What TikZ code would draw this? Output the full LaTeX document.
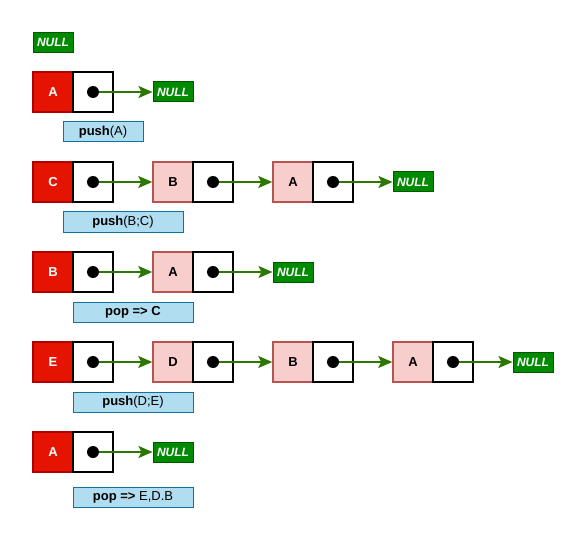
\documentclass[tikz,border=0pt]{standalone}
\usepackage{fontspec}
\setmainfont{Liberation Sans}
\usetikzlibrary{arrows.meta}
\definecolor{headfill}{HTML}{E51400}
\definecolor{headline}{HTML}{B20000}
\definecolor{nodefill}{HTML}{F8CECC}
\definecolor{nodeline}{HTML}{B85450}
\definecolor{nullfill}{HTML}{008A00}
\definecolor{nullline}{HTML}{005700}
\definecolor{arrowcol}{HTML}{2D7600}
\definecolor{labfill}{HTML}{B1DDF0}
\definecolor{labline}{HTML}{10739E}
\tikzset{
  headbox/.style={draw=headline,fill=headfill,line width=1.5pt,minimum width=40pt,minimum height=40pt,inner sep=0pt,text=white,font=\fontsize{13}{15}\selectfont\bfseries},
  valbox/.style={draw=nodeline,fill=nodefill,line width=1.5pt,minimum width=40pt,minimum height=40pt,inner sep=0pt,font=\fontsize{13}{15}\selectfont\bfseries},
  ptrbox/.style={draw=black,fill=white,line width=1.5pt,minimum width=40pt,minimum height=40pt,inner sep=0pt},
  nullbox/.style={draw=nullline,fill=nullfill,line width=1pt,minimum width=40pt,minimum height=20pt,inner sep=0pt,text=white,font=\fontsize{12}{14}\selectfont\bfseries\itshape},
  labbox/.style={draw=labline,fill=labfill,line width=1pt,minimum height=20pt,inner sep=0pt,font=\fontsize{13}{15}\selectfont},
  ptrdot/.style={circle,fill=black,minimum size=12pt,inner sep=0pt},
  link/.style={draw=arrowcol,line width=2pt,-{Stealth[length=14pt,width=12pt,inset=3pt]}},
}
\begin{document}
\begin{tikzpicture}[x=1pt,y=-1pt]
\useasboundingbox (0,0) rectangle (586,540);
% top NULL
\node[nullbox] (n0) at (53,42.5) {NULL};
% row 1
\node[headbox] (r1a) at (53,92) {A};
\node[ptrbox] (r1ap) at (93,92) {};
\node[nullbox] (r1n) at (173,92) {NULL};
\draw[link] (r1ap.center) -- (r1n.west);
\node[ptrdot] (r1ad) at (r1ap.center) {};
\node[labbox,minimum width=80pt] (l1) at (103,132) {\textbf{push}(A)};
% row 2
\node[headbox] (r2c) at (53,182) {C};
\node[ptrbox] (r2cp) at (93,182) {};
\node[valbox] (r2b) at (173,182) {B};
\node[ptrbox] (r2bp) at (213,182) {};
\node[valbox] (r2a) at (293,182) {A};
\node[ptrbox] (r2ap) at (333,182) {};
\node[nullbox] (r2n) at (413,182) {NULL};
\draw[link] (r2cp.center) -- (r2b.west);
\draw[link] (r2bp.center) -- (r2a.west);
\draw[link] (r2ap.center) -- (r2n.west);
\node[ptrdot] (r2cd) at (r2cp.center) {};
\node[ptrdot] (r2bd) at (r2bp.center) {};
\node[ptrdot] (r2ad) at (r2ap.center) {};
\node[labbox,minimum width=120pt] (l2) at (123,222) {\textbf{push}(B;C)};
% row 3
\node[headbox] (r3b) at (53,272) {B};
\node[ptrbox] (r3bp) at (93,272) {};
\node[valbox] (r3a) at (173,272) {A};
\node[ptrbox] (r3ap) at (213,272) {};
\node[nullbox] (r3n) at (293,272) {NULL};
\draw[link] (r3bp.center) -- (r3a.west);
\draw[link] (r3ap.center) -- (r3n.west);
\node[ptrdot] (r3bd) at (r3bp.center) {};
\node[ptrdot] (r3ad) at (r3ap.center) {};
\node[labbox,minimum width=120pt] (l3) at (133,312) {\textbf{pop => C}};
% row 4
\node[headbox] (r4e) at (53,362) {E};
\node[ptrbox] (r4ep) at (93,362) {};
\node[valbox] (r4d) at (173,362) {D};
\node[ptrbox] (r4dp) at (213,362) {};
\node[valbox] (r4b) at (293,362) {B};
\node[ptrbox] (r4bp) at (333,362) {};
\node[valbox] (r4a) at (413,362) {A};
\node[ptrbox] (r4ap) at (453,362) {};
\node[nullbox] (r4n) at (533,362) {NULL};
\draw[link] (r4ep.center) -- (r4d.west);
\draw[link] (r4dp.center) -- (r4b.west);
\draw[link] (r4bp.center) -- (r4a.west);
\draw[link] (r4ap.center) -- (r4n.west);
\node[ptrdot] (r4ed) at (r4ep.center) {};
\node[ptrdot] (r4dd) at (r4dp.center) {};
\node[ptrdot] (r4bd) at (r4bp.center) {};
\node[ptrdot] (r4ad) at (r4ap.center) {};
\node[labbox,minimum width=120pt] (l4) at (133,402) {\textbf{push}(D;E)};
% row 5
\node[headbox] (r5a) at (53,452) {A};
\node[ptrbox] (r5ap) at (93,452) {};
\node[nullbox] (r5n) at (173,452) {NULL};
\draw[link] (r5ap.center) -- (r5n.west);
\node[ptrdot] (r5ad) at (r5ap.center) {};
\node[labbox,minimum width=120pt] (l5) at (133,497) {\textbf{pop =>} E,D.B};
\end{tikzpicture}
\end{document}
